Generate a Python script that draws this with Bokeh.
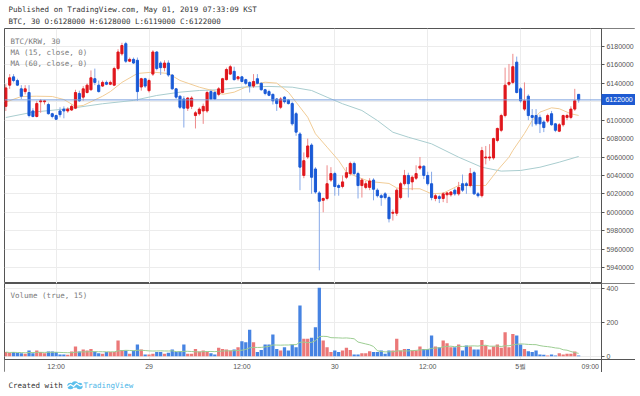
import pandas as pd
from bokeh.plotting import figure
from bokeh.models import (ColumnDataSource, Range1d, FixedTicker, Label, BoxAnnotation,
                          NumeralTickFormatter, LinearAxis)
from bokeh.layouts import column
from bokeh.embed import file_html
from bokeh.resources import INLINE

# ---------------- data (30-minute bars, Apr 28 05:30 -> May 01 07:30 KST) ----------------
opens = [6115000, 6138000, 6147000, 6143000, 6134000, 6131000, 6130000, 6110000, 6104000, 6120000,
         6120000, 6117000, 6107000, 6105000, 6110000, 6112000, 6110000, 6111000, 6113000, 6129000,
         6125000, 6130000, 6133000, 6145000, 6138000, 6137000, 6141000, 6139000, 6138000, 6156000,
         6172000, 6183000, 6164000, 6166000, 6165000, 6136000, 6145000, 6132000, 6150000, 6174000,
         6162000, 6157000, 6162000, 6149000, 6134000, 6126000, 6123000, 6113000, 6115000, 6105000,
         6107000, 6110000, 6110000, 6131000, 6130000, 6128000, 6130000, 6144000, 6150000, 6153000,
         6145000, 6147000, 6144000, 6141000, 6137000, 6145000, 6140000, 6133000, 6131000, 6128000,
         6123000, 6114000, 6125000, 6122000, 6118000, 6107000, 6085000, 6040000, 6060000, 6073000,
         6047000, 6021000, 6013000, 6015000, 6035000, 6042000, 6029000, 6028000, 6038000, 6042000,
         6053000, 6042000, 6029000, 6027000, 6027000, 6035000, 6024000, 6018000, 6020000, 6016000,
         5999000, 5999000, 6016000, 6031000, 6040000, 6033000, 6037000, 6048000, 6050000, 6040000,
         6031000, 6015000, 6017000, 6015000, 6019000, 6019000, 6024000, 6020000, 6031000, 6031000,
         6029000, 6043000, 6020000, 6018000, 6059000, 6059000, 6059000, 6078000, 6089000, 6105000,
         6139000, 6141000, 6163000, 6134000, 6112000, 6126000, 6105000, 6105000, 6103000, 6098000,
         6099000, 6107000, 6096000, 6088000, 6095000, 6103000, 6103000, 6112000, 6128000]
highs = [6139000, 6150000, 6150000, 6145000, 6138000, 6138000, 6138000, 6113000, 6121000, 6123000,
         6122000, 6119000, 6108000, 6106000, 6114000, 6115000, 6114000, 6117000, 6133000, 6132000,
         6137000, 6140000, 6154000, 6156000, 6143000, 6143000, 6143000, 6143000, 6158000, 6177000,
         6184000, 6185000, 6168000, 6168000, 6168000, 6146000, 6146000, 6145000, 6176000, 6175000,
         6164000, 6165000, 6165000, 6150000, 6135000, 6127000, 6126000, 6125000, 6126000, 6110000,
         6114000, 6118000, 6132000, 6133000, 6132000, 6136000, 6146000, 6157000, 6160000, 6158000,
         6148000, 6148000, 6145000, 6142000, 6150000, 6150000, 6141000, 6134000, 6133000, 6129000,
         6124000, 6125000, 6126000, 6123000, 6120000, 6109000, 6087000, 6065000, 6080000, 6075000,
         6049000, 6023000, 6016000, 6051000, 6049000, 6044000, 6031000, 6040000, 6049000, 6055000,
         6055000, 6044000, 6037000, 6034000, 6037000, 6037000, 6026000, 6020000, 6022000, 6018000,
         6003000, 6026000, 6033000, 6046000, 6043000, 6040000, 6051000, 6060000, 6051000, 6044000,
         6044000, 6020000, 6019000, 6022000, 6022000, 6023000, 6026000, 6033000, 6041000, 6033000,
         6048000, 6045000, 6022000, 6071000, 6072000, 6074000, 6081000, 6092000, 6107000, 6157000,
         6161000, 6172000, 6169000, 6136000, 6141000, 6128000, 6112000, 6112000, 6106000, 6100000,
         6107000, 6110000, 6097000, 6097000, 6106000, 6107000, 6115000, 6134000, 6128000]
lows = [6110000, 6134000, 6141000, 6137000, 6123000, 6128000, 6103000, 6103000, 6103000, 6108000,
        6117000, 6106000, 6102000, 6100000, 6103000, 6102000, 6108000, 6110000, 6112000, 6120000,
        6121000, 6129000, 6132000, 6138000, 6130000, 6136000, 6138000, 6138000, 6137000, 6154000,
        6170000, 6162000, 6163000, 6161000, 6121000, 6132000, 6135000, 6130000, 6148000, 6154000,
        6149000, 6153000, 6147000, 6133000, 6123000, 6112000, 6092000, 6110000, 6112000, 6091000,
        6105000, 6096000, 6108000, 6122000, 6122000, 6126000, 6129000, 6143000, 6149000, 6143000,
        6143000, 6141000, 6138000, 6130000, 6135000, 6139000, 6132000, 6127000, 6126000, 6117000,
        6110000, 6112000, 6118000, 6117000, 6094000, 6083000, 6024000, 6037000, 6058000, 6020000,
        6020000, 5937000, 6000000, 6013000, 6033000, 6018000, 6018000, 6026000, 6036000, 6040000,
        6040000, 6015000, 6016000, 6025000, 6024000, 6013000, 6016000, 6007000, 6014000, 5989000,
        5991000, 5996000, 6014000, 6029000, 6016000, 6024000, 6035000, 6046000, 6036000, 6029000,
        6013000, 6012000, 6010000, 6011000, 6010000, 6017000, 6018000, 6018000, 6022000, 6020000,
        6027000, 6019000, 6016000, 6016000, 6052000, 6056000, 6057000, 6076000, 6087000, 6103000,
        6137000, 6139000, 6129000, 6119000, 6110000, 6100000, 6093000, 6094000, 6086000, 6087000,
        6097000, 6094000, 6087000, 6087000, 6093000, 6100000, 6101000, 6110000, 6119000]
closes = [6135000, 6146000, 6143000, 6138000, 6126000, 6134000, 6105000, 6104000, 6118000, 6121000,
          6121000, 6107000, 6104000, 6101000, 6106000, 6110000, 6112000, 6115000, 6130000, 6121000,
          6134000, 6138000, 6146000, 6141000, 6131000, 6141000, 6139000, 6141000, 6156000, 6174000,
          6181000, 6164000, 6166000, 6162000, 6131000, 6145000, 6137000, 6143000, 6174000, 6156000,
          6157000, 6162000, 6149000, 6134000, 6125000, 6114000, 6113000, 6124000, 6124000, 6108000,
          6112000, 6115000, 6130000, 6123000, 6123000, 6134000, 6145000, 6155000, 6158000, 6144000,
          6147000, 6142000, 6140000, 6137000, 6142000, 6140000, 6133000, 6129000, 6127000, 6121000,
          6118000, 6123000, 6120000, 6118000, 6096000, 6087000, 6049000, 6056000, 6072000, 6038000,
          6022000, 6012000, 6015000, 6031000, 6042000, 6028000, 6027000, 6033000, 6043000, 6053000,
          6042000, 6029000, 6035000, 6031000, 6034000, 6025000, 6018000, 6016000, 6016000, 5993000,
          6000000, 6024000, 6031000, 6040000, 6031000, 6038000, 6042000, 6050000, 6040000, 6031000,
          6016000, 6018000, 6015000, 6020000, 6021000, 6022000, 6020000, 6027000, 6024000, 6029000,
          6042000, 6020000, 6018000, 6067000, 6060000, 6060000, 6080000, 6091000, 6105000, 6138000,
          6141000, 6158000, 6130000, 6121000, 6121000, 6105000, 6103000, 6096000, 6096000, 6092000,
          6105000, 6095000, 6089000, 6095000, 6105000, 6105000, 6112000, 6121000, 6122000]
volumes = [24, 20, 24, 20, 18, 14, 33, 18, 33, 24, 18, 27, 27, 24, 10, 10, 8, 27, 57, 27,
           39, 33, 43, 27, 18, 14, 24, 24, 24, 92, 37, 33, 14, 33, 69, 39, 10, 10, 14, 24,
           24, 14, 20, 39, 24, 29, 69, 14, 14, 43, 27, 33, 24, 18, 10, 49, 43, 39, 33, 39,
           53, 88, 82, 155, 82, 24, 37, 69, 69, 127, 43, 33, 53, 33, 69, 53, 298, 102, 102, 108,
           170, 402, 92, 53, 24, 33, 24, 33, 49, 37, 10, 10, 18, 18, 29, 24, 24, 33, 14, 33,
           33, 102, 33, 43, 43, 33, 33, 57, 43, 43, 122, 57, 53, 92, 76, 53, 53, 69, 33, 63,
           57, 39, 39, 96, 63, 39, 57, 69, 49, 141, 53, 131, 122, 69, 43, 29, 24, 33, 10, 8,
           4, 10, 4, 18, 10, 14, 14, 27, 4]

# moving averages (bar index, value)
ma15_bar = [0, 4, 8, 12, 15, 18, 20, 22, 25, 27, 30, 34, 38, 42, 45, 50, 54, 56, 59, 63,
            67, 70, 73, 75, 78, 80, 83, 86, 88, 91, 94, 99, 101, 103, 107, 110, 113, 117, 124, 127,
            130, 131, 134, 136, 138, 141, 143, 146, 148]
ma15_val = [6119600, 6125700, 6126000, 6125700, 6122400, 6114900, 6116000, 6120000, 6126000, 6131000,
            6141000, 6150700, 6152100, 6150700, 6143100, 6135800, 6131500, 6128000, 6130400, 6137700,
            6141200, 6140200, 6130400, 6119500, 6103200, 6085200, 6070700, 6056200, 6043500, 6038100,
            6033400, 6031300, 6026400, 6025500, 6025500, 6020100, 6020700, 6029100, 6029100, 6045400,
            6059800, 6067100, 6085500, 6099600, 6108700, 6113400, 6112400, 6106900, 6105100]
ma60_bar = [0, 7, 16, 25, 33, 39, 45, 50, 55, 61, 68, 74, 79, 83, 87, 92, 96, 100, 104, 110,
            117, 123, 128, 133, 138, 143, 148]
ma60_val = [6102900, 6108700, 6112400, 6117800, 6121400, 6126800, 6130400, 6132200, 6133000, 6135800,
            6136600, 6135800, 6132200, 6124900, 6117800, 6110500, 6099600, 6086900, 6081500, 6074300,
            6059800, 6048900, 6044700, 6045400, 6048900, 6054400, 6060600]

tick_bars = [13, 37, 61, 85, 109, 133, 151]
tick_labels = ["12:00", "29", "12:00", "30", "12:00", "5월", "09:00"]
price_ticks = [5940000, 5960000, 5980000, 6000000, 6020000, 6040000, 6060000,
               6080000, 6100000, 6120000, 6140000, 6160000, 6180000]
vol_ticks = [0, 200, 400]
last_price = 6122000

# ---------------- styling ----------------
RED_BODY, BLUE_BODY = "#e0161c", "#1a5ad6"
RED_WICK, BLUE_WICK = "#ee8a8a", "#86a8e8"
RED_VOL, BLUE_VOL = "#eb7878", "#4683e2"
GRID = "#ececec"
FRAME = "#555555"
TXT = "#555555"
PRICE_BOX = "#1e5bd2"
MONO = "DejaVu Sans Mono"
SANS = "Liberation Sans"

n = len(closes)
up = [c >= o for o, c in zip(opens, closes)]
src = ColumnDataSource(dict(
    x=list(range(n)),
    high=highs, low=lows,
    top=[max(o, c) for o, c in zip(opens, closes)],
    bottom=[min(o, c) for o, c in zip(opens, closes)],
    body=[RED_BODY if u else BLUE_BODY for u in up],
    wick=[RED_WICK if u else BLUE_WICK for u in up],
    vol=volumes,
    volc=[RED_VOL if u else BLUE_VOL for u in up],
    volma=pd.Series(volumes).rolling(15, min_periods=1).mean().tolist(),
))

LB = 4            # left border (px)
FW = 631          # frame width incl. the price-scale column (px)
X0 = -0.34        # bar index at the left frame edge
X_SCALE = 153.9   # bar index where the price scale begins
X_END = 162.69    # bar index at the right frame edge
XR = Range1d(X0, X_END)


def bare(fig):
    fig.grid.visible = False
    fig.background_fill_color = "white"
    fig.border_fill_color = "white"
    return fig


def style_axis(ax):
    ax.major_label_text_font = SANS
    ax.major_label_text_font_size = "7px"
    ax.major_label_text_color = TXT
    ax.axis_line_color = FRAME
    ax.major_tick_line_color = FRAME
    ax.major_tick_out = 3
    ax.major_tick_in = 0
    ax.minor_tick_line_color = None
    ax.major_label_standoff = 2


# ---------------- header ----------------
hdr = bare(figure(frame_width=640, frame_height=28, x_range=(0, 640), y_range=(0, 28),
                  toolbar_location=None, output_backend="svg", x_axis_location=None,
                  y_axis_location=None, min_border_left=0, min_border_right=0,
                  min_border_top=0, min_border_bottom=0, outline_line_color=None))
hdr.add_layout(Label(x=4, y=19, text="Published on TradingView.com, May 01, 2019 07:33:09 KST",
                     text_font=MONO, text_font_size="7.5px", text_color="#333333",
                     text_baseline="middle"))
hdr.add_layout(Label(x=4, y=7, text="BTC, 30 O:6128000 H:6128000 L:6119000 C:6122000",
                     text_font=MONO, text_font_size="7.5px", text_color="#333333",
                     text_baseline="middle"))

# ---------------- main price pane ----------------
main = figure(frame_width=FW, frame_height=255, x_range=XR, y_range=Range1d(5922700, 6199500),
              toolbar_location=None, output_backend="svg", x_axis_location=None,
              y_axis_location=None, min_border_left=LB, min_border_right=0,
              min_border_top=0, min_border_bottom=0, outline_line_color=FRAME,
              background_fill_color="white", border_fill_color="white")
main.xgrid.ticker = FixedTicker(ticks=tick_bars)
main.ygrid.ticker = FixedTicker(ticks=price_ticks)
main.grid.grid_line_color = GRID
main.add_layout(BoxAnnotation(left=X_SCALE, fill_color="white", fill_alpha=1.0,
                              line_color=None, level="glyph"))

ya = LinearAxis(fixed_location=X_SCALE, ticker=FixedTicker(ticks=price_ticks),
                formatter=NumeralTickFormatter(format="0"))
style_axis(ya)
main.add_layout(ya, "right")
# last-price marker on the price scale (a thick tick with a white label)
pax = LinearAxis(fixed_location=X_SCALE, ticker=FixedTicker(ticks=[last_price]),
                 formatter=NumeralTickFormatter(format="0"), axis_line_color=None,
                 major_tick_in=0, major_tick_out=40, major_tick_line_color=PRICE_BOX,
                 major_tick_line_width=11, minor_tick_line_color=None,
                 major_label_standoff=-36, major_label_text_color="white",
                 major_label_text_font=SANS, major_label_text_font_size="7px")
main.add_layout(pax, "right")

main.line(ma60_bar, ma60_val, line_color="#a9cdcf", line_width=1)
main.line(ma15_bar, ma15_val, line_color="#f1cc96", line_width=1)
main.segment(x0="x", y0="low", x1="x", y1="high", line_color="wick", line_width=1, source=src)
main.vbar(x="x", width=0.55, top="top", bottom="bottom", fill_color="body",
          line_color="body", line_width=1, source=src)
main.segment(x0=[X0], x1=[X_SCALE], y0=[last_price], y1=[last_price],
             line_color="#7aa0de", line_width=1)
for txt, yy in [("BTC/KRW, 30", 242), ("MA (15, close, 0)", 231), ("MA (60, close, 0)", 220)]:
    main.add_layout(Label(x=6, y=yy, x_units="screen", y_units="screen", text=txt,
                          text_font=MONO, text_font_size="7.5px", text_color="#7a7a7a",
                          text_baseline="middle"))

# ---------------- volume pane (incl. time-scale row) ----------------
V_AXIS = -19.4    # volume value at the bottom of the volume pane (time axis line)
vol = figure(frame_width=FW, frame_height=89, x_range=XR, y_range=Range1d(-95.9, 427.6),
             toolbar_location=None, output_backend="svg", x_axis_location=None,
             y_axis_location=None, min_border_left=LB, min_border_right=0,
             min_border_top=0, min_border_bottom=0, outline_line_color=FRAME,
             background_fill_color="white", border_fill_color="white")
vol.xgrid.ticker = FixedTicker(ticks=tick_bars)
vol.ygrid.ticker = FixedTicker(ticks=vol_ticks)
vol.grid.grid_line_color = GRID
vol.add_layout(BoxAnnotation(left=X_SCALE, fill_color="white", fill_alpha=1.0,
                             line_color=None, level="glyph"))
vol.add_layout(BoxAnnotation(top=V_AXIS, fill_color="white", fill_alpha=1.0,
                             line_color=None, level="glyph"))

vy = LinearAxis(fixed_location=X_SCALE, ticker=FixedTicker(ticks=vol_ticks))
style_axis(vy)
vol.add_layout(vy, "right")
vx = LinearAxis(fixed_location=V_AXIS, ticker=FixedTicker(ticks=tick_bars),
                major_label_overrides={b: l for b, l in zip(tick_bars, tick_labels)})
style_axis(vx)
vx.major_tick_line_color = None
vx.major_tick_out = 0
vx.major_label_standoff = 4
vol.add_layout(vx, "below")

vol.vbar(x="x", width=0.85, top="vol", bottom=0, fill_color="volc", line_color=None, source=src)
vol.line("x", "volma", line_color="#9ccd92", line_width=1, source=src)
vol.add_layout(Label(x=6, y=77, x_units="screen", y_units="screen", text="Volume (true, 15)",
                     text_font=MONO, text_font_size="7.5px", text_color="#7a7a7a",
                     text_baseline="middle"))

# ---------------- footer ----------------
ftr = bare(figure(frame_width=640, frame_height=23, x_range=(0, 640), y_range=(0, 23),
                  toolbar_location=None, output_backend="svg", x_axis_location=None,
                  y_axis_location=None, min_border_left=0, min_border_right=0,
                  min_border_top=0, min_border_bottom=0, outline_line_color=None))
ftr.add_layout(Label(x=4, y=10, text="Created with", text_font=MONO, text_font_size="7.5px",
                     text_color="#333333", text_baseline="middle"))
ftr.circle([66, 70.5, 75], [9.5, 11, 9.5], radius=3.2, fill_color="#5cc0ec", line_color=None)
ftr.line([62, 66, 69, 72, 76, 79], [8, 11, 9, 12, 9.5, 11], line_color="white", line_width=1.2)
ftr.add_layout(Label(x=79, y=10, text="TradingView", text_font=MONO, text_font_size="7.5px",
                     text_color="#4db6e8", text_baseline="middle"))

layout = column(hdr, main, vol, ftr, spacing=0)
open("out.html", "w").write(file_html(layout, INLINE))
